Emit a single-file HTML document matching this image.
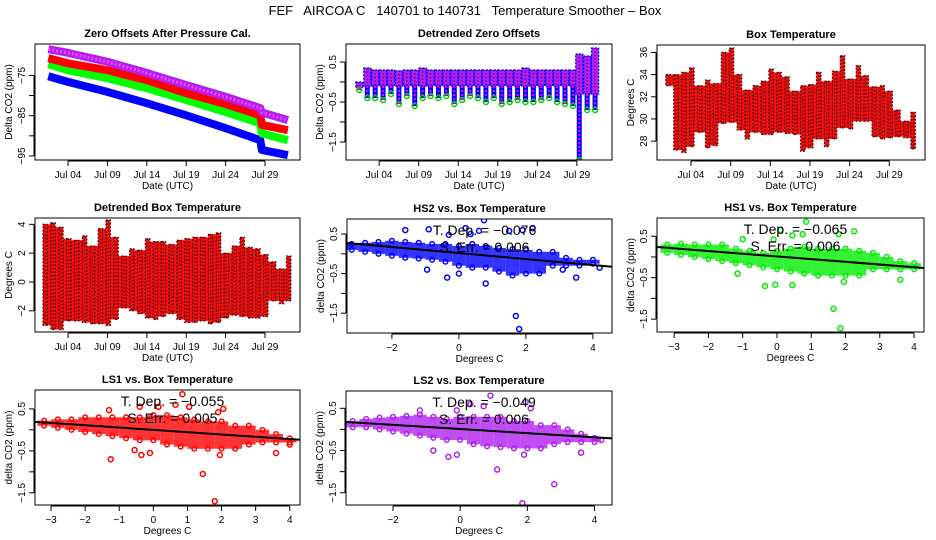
<!DOCTYPE html>
<html><head><meta charset="utf-8">
<style>
html,body{margin:0;padding:0;background:#fff;}
svg{display:block;font-family:"Liberation Sans",sans-serif;}
</style></head>
<body>
<svg id="chart" width="936" height="540" viewBox="0 0 936 540" xmlns="http://www.w3.org/2000/svg">
<rect width="936" height="540" fill="#fff"/>
<text x="465" y="15" font-size="13" text-anchor="middle" xml:space="preserve">FEF   AIRCOA C   140701 to 140731   Temperature Smoother – Box</text>
</svg>
<script>
// ---------- data ----------
const dateTickLabels = ["Jul 04","Jul 09","Jul 14","Jul 19","Jul 24","Jul 29"];
const dateTickDays = [4,9,14,19,24,29];
const offsetDays = [1.5,4,9,14,19,24,28.4,28.6,31.9];
const offsetLS2 = [-68.5,-69.4,-71.6,-74.4,-77.4,-80.3,-83.1,-84.2,-86.1];
const offsetLS1 = [-70.7,-72,-73.7,-76.2,-79.4,-82.1,-84.9,-87.3,-88.6];
const offsetHS1 = [-72.2,-73.7,-75.7,-78.2,-81.1,-84.1,-86.9,-89.4,-91.1];
const offsetHS2 = [-75.2,-76.6,-79.1,-81.9,-84.9,-88.1,-91.1,-93.5,-94.8];
const detrendDays = [1.5,2.5,3.5,4.5,5.5,6.5,7.5,8.5,9.5,10.5,11.5,12.5,13.5,14.5,15.5,16.5,17.5,18.5,19.5,20.5,21.5,22.5,23.5,24.5,25.5,26.5,27.5,28.5,29.3,30.3,31.3];
const detrendMax = [0.0,0.35,0.3,0.3,0.3,0.28,0.3,0.3,0.35,0.3,0.3,0.3,0.3,0.3,0.3,0.3,0.3,0.3,0.3,0.3,0.3,0.35,0.3,0.3,0.3,0.3,0.3,0.3,0.7,0.65,0.85];
const detrendMin = [-0.2,-0.4,-0.4,-0.45,-0.3,-0.55,-0.35,-0.6,-0.4,-0.35,-0.4,-0.35,-0.55,-0.45,-0.35,-0.4,-0.5,-0.4,-0.55,-0.5,-0.45,-0.5,-0.5,-0.45,-0.4,-0.5,-0.55,-0.6,-1.95,-0.7,-0.7];
const detrendBandLow = [-0.15,-0.1,-0.1,-0.1,-0.1,-0.1,-0.1,-0.1,-0.1,-0.1,-0.1,-0.1,-0.1,-0.1,-0.1,-0.1,-0.1,-0.1,-0.1,-0.1,-0.1,-0.1,-0.1,-0.1,-0.1,-0.1,-0.1,-0.1,-0.3,-0.3,-0.3];
const tempDays = [1.1,2.1,3.1,4.1,5.1,6.1,7.1,8.1,9.1,10.1,11.1,12.1,13.1,14.1,15.1,16.1,17.1,18.1,19.1,20.1,21.1,22.1,23.1,24.1,25.1,26.1,27.1,28.1,29.1,30.1,31.1,32.0];
const boxMin = [33.0,27.2,27.0,27.5,28.8,27.4,27.6,29.6,29.7,29.0,28.2,28.8,28.6,28.6,28.8,28.7,28.6,27.1,27.4,28.2,27.5,28.2,29.2,29.1,29.8,29.8,28.4,28.2,28.3,28.4,28.3,27.3];
const boxMax = [34.0,34.0,34.2,34.6,33.0,33.5,33.2,36.0,36.4,34.0,32.6,33.0,33.4,34.5,34.2,33.8,32.5,33.0,33.1,34.2,33.4,34.3,35.7,33.6,34.8,33.9,32.9,33.0,32.5,30.8,29.8,30.6];
const dtMax = [4.0,4.1,3.8,3.0,2.9,3.2,2.5,3.7,4.3,3.1,1.8,2.3,2.2,3.0,2.8,2.8,2.6,2.9,3.0,3.1,3.1,3.3,3.4,2.0,2.5,3.1,2.4,2.3,1.9,1.4,0.9,1.8];
const dtMin = [-3.0,-3.3,-3.3,-2.7,-2.7,-2.8,-2.9,-2.9,-3.0,-2.6,-1.8,-2.0,-2.2,-2.5,-2.6,-2.4,-2.2,-2.6,-2.8,-2.8,-2.7,-2.9,-2.8,-2.5,-2.3,-2.4,-2.5,-2.5,-2.4,-1.3,-1.5,-1.3];
const binX = [-3.2,-2.8,-2.4,-2,-1.6,-1.2,-0.8,-0.4,0,0.4,0.8,1.2,1.6,2,2.4,2.8,3.2,3.6,4.0];
const hs2Hi = [0.25,0.28,0.3,0.33,0.3,0.28,0.25,0.25,0.2,0.25,0.2,0.15,0.12,0.1,0.05,0.05,-0.1,-0.15,-0.15];
const hs2Lo = [0.1,0.05,0.0,-0.05,-0.1,-0.12,-0.15,-0.2,-0.3,-0.35,-0.35,-0.45,-0.55,-0.5,-0.5,-0.3,-0.3,-0.3,-0.25];
const hs2Out = [[-1.6,0.6],[-0.9,0.62],[-0.95,-0.4],[-0.35,-0.6],[-0.3,0.48],[0.2,0.65],[0.35,0.5],[0.75,0.85],[0.6,0.58],[1.5,0.58],[1.9,0.6],[2.2,0.65],[0.8,-0.75],[1.7,-1.57],[1.8,-1.9],[3.5,-0.6],[3.1,-0.4],[0,-0.5],[4.2,-0.35]];
const hs1Hi = [0.3,0.32,0.3,0.3,0.3,0.2,0.15,0.1,0.15,0.2,0.25,0.2,0.2,0.2,0.15,0.1,0.0,-0.1,-0.15];
const hs1Lo = [0.1,0.05,0.0,-0.05,-0.1,-0.15,-0.2,-0.25,-0.3,-0.35,-0.4,-0.45,-0.45,-0.45,-0.45,-0.3,-0.3,-0.3,-0.3];
const hs1Out = [[-1.15,-0.4],[-0.35,-0.7],[-0.05,-0.67],[0.45,-0.68],[1.65,-1.25],[1.85,-1.72],[1.95,-0.6],[3.6,-0.55],[0.85,0.85],[0.1,0.65],[0.45,0.52],[0.75,0.55],[1.8,0.55],[2.25,0.62],[-1,0.43],[-0.1,0.42]];
const ls1Hi = [0.22,0.25,0.25,0.3,0.3,0.3,0.3,0.3,0.35,0.35,0.3,0.25,0.2,0.2,0.1,0.1,0.0,-0.1,-0.2];
const ls1Lo = [0.1,0.05,0.0,-0.05,-0.1,-0.15,-0.2,-0.25,-0.25,-0.35,-0.4,-0.45,-0.45,-0.45,-0.45,-0.35,-0.3,-0.3,-0.3];
const ls1Out = [[-1.25,-0.7],[-0.55,-0.48],[-0.35,-0.6],[-0.1,-0.55],[1.45,-1.05],[1.8,-1.7],[1.95,-0.6],[3.6,-0.55],[0.85,0.85],[0.15,0.55],[0.65,0.6],[1.05,0.55],[2.05,0.5],[1.9,0.42],[-0.4,0.55],[-1.3,0.47],[4.0,-0.35]];
const ls2Hi = [0.2,0.25,0.28,0.3,0.32,0.35,0.3,0.25,0.3,0.3,0.3,0.3,0.2,0.2,0.1,0.1,0.0,-0.1,-0.2];
const ls2Lo = [0.05,0.05,0.0,-0.05,-0.1,-0.15,-0.2,-0.25,-0.25,-0.35,-0.4,-0.42,-0.45,-0.45,-0.45,-0.35,-0.3,-0.3,-0.3];
const ls2Out = [[-0.8,-0.5],[-0.35,-0.65],[-0.1,-0.6],[1.1,-0.95],[1.85,-1.75],[2.8,-1.3],[1.9,-0.6],[3.6,-0.55],[0.9,0.8],[0.3,0.6],[0.7,0.55],[1.95,0.65],[2.1,0.5],[-0.1,0.45],[-1.2,0.45],[4.2,-0.25]];
const fitSlopes = [-0.076,-0.065,-0.055,-0.049];
const fitIntercepts = [0.02,0.013,0.0,0.01];
const fitLabels = ["-0.076","-0.065","-0.055","-0.049"];
const fitErrs = ["0.006","0.006","0.005","0.006"];

// ---------- helpers ----------
const svg = document.getElementById('chart');
const NS = 'http://www.w3.org/2000/svg';
function mk(tag, attrs, parent){
  const e = document.createElementNS(NS, tag);
  for (const k in attrs) e.setAttribute(k, attrs[k]);
  (parent||svg).appendChild(e);
  return e;
}
function panel(cfg){
  const g = mk('g', {});
  
  
  const sx = v => cfg.L + (v - cfg.x0) / (cfg.x1 - cfg.x0) * (cfg.R - cfg.L);
  const sy = v => cfg.B - (v - cfg.y0) / (cfg.y1 - cfg.y0) * (cfg.B - cfg.T);
  const t = mk('text', {x:(cfg.L+cfg.R)/2, y:cfg.T-7, 'font-size':11, 'font-weight':'bold', 'text-anchor':'middle'}, g);
  t.textContent = cfg.title;
  
  
  const xa = mk('g', {}, g);
  
  
  const xt0 = sx(cfg.xticks[0]), xt1 = sx(cfg.xticks[cfg.xticks.length-1]);
  mk('line', {x1:xt0, x2:xt1, y1:cfg.B+1, y2:cfg.B+1, stroke:'#000'}, xa);
  cfg.xticks.forEach((v,i)=>{
    const x = sx(v);
    mk('line', {x1:x, x2:x, y1:cfg.B+1, y2:cfg.B+6, stroke:'#000'}, xa);
    const lt = mk('text', {x:x, y:cfg.B+18, 'font-size':10, 'text-anchor':'middle'}, xa);
    lt.textContent = cfg.xlabels[i];
    
    
  });
  const xtitle = mk('text', {x:(cfg.L+cfg.R)/2, y:cfg.B+29, 'font-size':10, 'text-anchor':'middle'}, g);
  xtitle.textContent = cfg.xtitle;
  
  
  const ya = mk('g', {}, g);
  
  
  const yt0 = sy(cfg.yticks[0]), yt1 = sy(cfg.yticks[cfg.yticks.length-1]);
  mk('line', {x1:cfg.L-1, x2:cfg.L-1, y1:yt0, y2:yt1, stroke:'#000'}, ya);
  cfg.yticks.forEach((v,i)=>{
    const y = sy(v);
    mk('line', {x1:cfg.L-1, x2:cfg.L-6, y1:y, y2:y, stroke:'#000'}, ya);
    if (cfg.ylabels[i] !== '') {
      const lt = mk('text', {x:cfg.L-10, y:y, 'font-size':10, 'text-anchor':'middle', transform:`rotate(-90 ${cfg.L-10} ${y})`}, ya);
      lt.textContent = cfg.ylabels[i];
      
      
    }
  });
  const yx = cfg.L-23, ym = (cfg.T+cfg.B)/2;
  const ytitle = mk('text', {x:yx, y:ym, 'font-size':10, 'text-anchor':'middle', transform:`rotate(-90 ${yx} ${ym})`}, g);
  ytitle.textContent = cfg.ytitle;
  
  
  const clipId = 'c' + cfg.name;
  const cp = mk('clipPath', {id:clipId}, g);
  mk('rect', {x:cfg.L, y:cfg.T, width:cfg.R-cfg.L, height:cfg.B-cfg.T}, cp);
  const plot = mk('g', {'clip-path':`url(#${clipId})`}, g);
  
  
  const box = mk('rect', {x:cfg.L, y:cfg.T, width:cfg.R-cfg.L, height:cfg.B-cfg.T, fill:'none', stroke:'#000'}, g);
  
  
  return {g, plot, sx, sy};
}
// daily columns from min..max, plus joining band between adjacent days over their overlapping range
function columns(p, days, mins, maxs, color, edge, colW, name){
  days.forEach((d,i)=>{
    if (i>0) {
      const lo = Math.max(mins[i], mins[i-1]), hi = Math.min(maxs[i], maxs[i-1]);
      if (hi > lo) {
        const b = mk('rect', {x:p.sx(days[i-1]), y:p.sy(hi), width:p.sx(d)-p.sx(days[i-1]), height:p.sy(lo)-p.sy(hi), fill:color}, p.plot);
        
        
      }
    }
  });
  days.forEach((d,i)=>{
    const x0 = p.sx(d - colW/2), x1 = p.sx(d + colW/2);
    const r = mk('rect', {x:x0, y:p.sy(maxs[i]), width:x1-x0, height:p.sy(mins[i])-p.sy(maxs[i]), fill:color, stroke:edge, 'stroke-width':1.2, 'stroke-dasharray':'2 1.5'}, p.plot);
    
    
  });
}
function texture(p, days, mins, maxs, name){
  days.forEach((d,i)=>{
    const l = mk('line', {x1:p.sx(d), x2:p.sx(d), y1:p.sy(maxs[i]), y2:p.sy(mins[i]), stroke:'#200', 'stroke-width':1.5, 'stroke-dasharray':'1 2.5', opacity:0.7}, p.plot);
    
    
  });
}
function scatter(p, hi, lo, out, color, k, name){
  binX.forEach((x,i)=>{
    const r = mk('rect', {x:p.sx(x-0.2), y:p.sy(hi[i]), width:p.sx(0.2)-p.sx(-0.2), height:Math.max(2,p.sy(lo[i])-p.sy(hi[i])), fill:color, opacity:0.8}, p.plot);
    
    
    [hi[i], lo[i]].forEach(v=>{
      const c = mk('circle', {cx:p.sx(x), cy:p.sy(v), r:2.3, fill:'none', stroke:color, 'stroke-width':1.5}, p.plot);
      
      
    });
  });
  out.forEach(pt=>{
    const c = mk('circle', {cx:p.sx(pt[0]), cy:p.sy(pt[1]), r:2.5, fill:'none', stroke:color, 'stroke-width':1.5}, p.plot);
    
    
  });
  const l = mk('line', {x1:p.sx(-4), y1:p.sy(fitIntercepts[k]+fitSlopes[k]*-4), x2:p.sx(5), y2:p.sy(fitIntercepts[k]+fitSlopes[k]*5), stroke:'#000', 'stroke-width':2}, p.plot);
  
  
}
function annot(p, cfg, k){
  const cx = (cfg.L+cfg.R)/2 + 5;
  const t1 = mk('text', {x:cx, y:cfg.T+16, 'font-size':14, 'text-anchor':'middle'}, p.g);
  t1.textContent = 'T. Dep. = ' + fitLabels[k].replace('-', '\u2212');
  
  
  const t2 = mk('text', {x:cx, y:cfg.T+33, 'font-size':14, 'text-anchor':'middle'}, p.g);
  t2.textContent = 'S. Err. = ' + fitErrs[k];
  
  
}
const dateCfg = {xticks:dateTickDays, xlabels:dateTickLabels, xtitle:'Date (UTC)'};

// Panel 1
const c1 = Object.assign({name:'zero-offsets-panel', title:'Zero Offsets After Pressure Cal.', L:35,R:300,T:44,B:160, x0:-0.19,x1:33.44, y0:-96.0,y1:-67.2,
  yticks:[-95,-90,-85,-80,-75], ylabels:['\u221295','','\u221285','','\u221275'], ytitle:'Delta CO2 (ppm)'}, dateCfg);
const p1 = panel(c1);
[[offsetHS2,'#0000ff','hs2-offset-series'],[offsetHS1,'#00ff00','hs1-offset-series'],[offsetLS1,'#ff0000','ls1-offset-series'],[offsetLS2,'#b020f0','ls2-offset-series']].forEach(s=>{
  const pts = offsetDays.map((d,i)=>p1.sx(d)+','+p1.sy(s[0][i])).join(' ');
  const pl = mk('polyline', {points:pts, fill:'none', stroke:s[1], 'stroke-width':8, 'stroke-linejoin':'round'}, p1.plot);
  
  
});
const ovl = mk('polyline', {points:offsetDays.map((d,i)=>p1.sx(d)+','+p1.sy(offsetLS2[i])).join(' '), fill:'none', stroke:'#ff40ff', 'stroke-width':3, 'stroke-dasharray':'2 2'}, p1.plot);



// Panel 2
const c2 = Object.assign({name:'detrended-zero-offsets-panel', title:'Detrended Zero Offsets', L:346,R:612,T:44,B:160, x0:-0.19,x1:33.44, y0:-1.95,y1:0.95,
  yticks:[-1.5,-1,-0.5,0,0.5], ylabels:['\u22121.5','','\u22120.5','','0.5'], ytitle:'Delta CO2 (ppm)'}, dateCfg);
const p2 = panel(c2);
columns(p2, detrendDays, detrendBandLow, detrendMax, '#b020f0', '#0000ff', 0.9, 'detrended-band');
detrendDays.forEach((d,i)=>{
  const l = mk('line', {x1:p2.sx(d), x2:p2.sx(d), y1:p2.sy(detrendBandLow[i]), y2:p2.sy(detrendMin[i]), stroke:'#0000ff', 'stroke-width':5}, p2.plot);
  
  
  const l2 = mk('line', {x1:p2.sx(d), x2:p2.sx(d), y1:p2.sy(detrendBandLow[i]), y2:p2.sy(detrendMin[i]), stroke:'#ff00ff', 'stroke-width':2, 'stroke-dasharray':'2 2'}, p2.plot);
  
  
  const c = mk('circle', {cx:p2.sx(d), cy:p2.sy(detrendMin[i]), r:2.5, fill:'none', stroke:'#00cc00', 'stroke-width':1.5}, p2.plot);
  
  
});
texture(p2, detrendDays, detrendBandLow, detrendMax, 'detrended-band');

// Panel 3
const c3 = Object.assign({name:'box-temperature-panel', title:'Box Temperature', L:657,R:925,T:45,B:160, x0:-0.29,x1:33.5, y0:26.3,y1:36.67,
  yticks:[28,30,32,34,36], ylabels:['28','30','32','34','36'], ytitle:'Degrees C'}, dateCfg);
const p3 = panel(c3);
columns(p3, tempDays, boxMin, boxMax, '#ee1111', '#550000', 0.55, 'box-temperature');
texture(p3, tempDays, boxMin, boxMax, 'box-temperature');

// Panel 4
const c4 = Object.assign({name:'detrended-box-temperature-panel', title:'Detrended Box Temperature', L:35,R:300,T:218,B:332, x0:-0.19,x1:33.44, y0:-3.47,y1:4.44,
  yticks:[-2,0,2,4], ylabels:['\u22122','0','2','4'], ytitle:'Degrees C'}, dateCfg);
const p4 = panel(c4);
columns(p4, tempDays, dtMin, dtMax, '#ee1111', '#550000', 0.55, 'detrended-box-temperature');
texture(p4, tempDays, dtMin, dtMax, 'detrended-box-temperature');

// Scatter panels
const degTitle = 'Degrees C';
const c5 = {name:'hs2-vs-box-temperature-panel', title:'HS2 vs. Box Temperature', L:347,R:612,T:219,B:333, x0:-3.34,x1:4.57, y0:-2.0,y1:0.88,
  xticks:[-2,0,2,4], xlabels:['\u22122','0','2','4'], xtitle:degTitle, yticks:[-1.5,-1,-0.5,0,0.5], ylabels:['\u22121.5','','\u22120.5','','0.5'], ytitle:'delta CO2 (ppm)'};
const p5 = panel(c5); scatter(p5, hs2Hi, hs2Lo, hs2Out, '#0000ff', 0, 'hs2'); annot(p5, c5, 0);
const c6 = {name:'hs1-vs-box-temperature-panel', title:'HS1 vs. Box Temperature', L:657,R:924,T:218,B:332, x0:-3.5,x1:4.29, y0:-1.81,y1:0.94,
  xticks:[-3,-2,-1,0,1,2,3,4], xlabels:['\u22123','\u22122','\u22121','0','1','2','3','4'], xtitle:degTitle, yticks:[-1.5,-1,-0.5,0,0.5], ylabels:['\u22121.5','','\u22120.5','','0.5'], ytitle:'delta CO2 (ppm)'};
const p6 = panel(c6); scatter(p6, hs1Hi, hs1Lo, hs1Out, '#00ee00', 1, 'hs1'); annot(p6, c6, 1);
const c7 = {name:'ls1-vs-box-temperature-panel', title:'LS1 vs. Box Temperature', L:35,R:300,T:390,B:505, x0:-3.47,x1:4.30, y0:-1.79,y1:0.95,
  xticks:[-3,-2,-1,0,1,2,3,4], xlabels:['\u22123','\u22122','\u22121','0','1','2','3','4'], xtitle:degTitle, yticks:[-1.5,-1,-0.5,0,0.5], ylabels:['\u22121.5','','\u22120.5','','0.5'], ytitle:'delta CO2 (ppm)'};
const p7 = panel(c7); scatter(p7, ls1Hi, ls1Lo, ls1Out, '#ff0000', 2, 'ls1'); annot(p7, c7, 2);
const c8 = {name:'ls2-vs-box-temperature-panel', title:'LS2 vs. Box Temperature', L:346,R:612,T:391,B:505, x0:-3.40,x1:4.52, y0:-1.79,y1:0.91,
  xticks:[-2,0,2,4], xlabels:['\u22122','0','2','4'], xtitle:degTitle, yticks:[-1.5,-1,-0.5,0,0.5], ylabels:['\u22121.5','','\u22120.5','','0.5'], ytitle:'delta CO2 (ppm)'};
const p8 = panel(c8); scatter(p8, ls2Hi, ls2Lo, ls2Out, '#b020f0', 3, 'ls2'); annot(p8, c8, 3);
</script>
</body></html>
